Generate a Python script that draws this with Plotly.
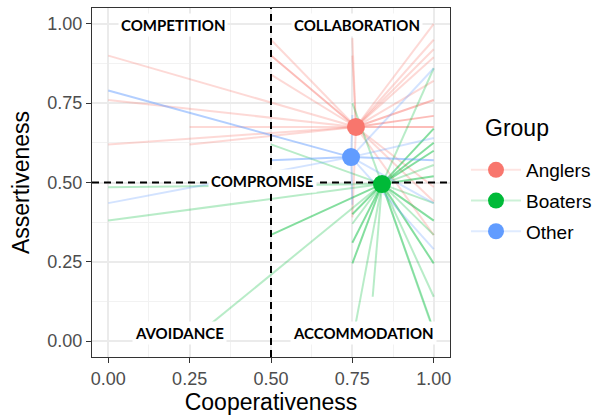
import plotly.graph_objects as go

# Group centroids (mean cooperativeness / assertiveness)
groups = ["Anglers", "Boaters", "Other"]
centroid_x = [0.761, 0.841, 0.746]
centroid_y = [0.675, 0.495, 0.580]
group_colors = ["#F8766D", "#00BA38", "#619CFF"]

# Individual respondent scores; n = number of respondents sharing that score
anglers_x = [0.00, 0.00, 0.00, 0.25, 0.25, 0.50, 0.50, 0.50, 0.75, 0.75,
             1.00, 1.00, 1.00, 1.00, 1.00, 1.00, 1.00, 1.00, 1.00, 1.00, 1.00, 0.75]
anglers_y = [0.900, 0.760, 0.620, 0.675, 0.620, 0.950, 0.900, 0.840, 0.955, 0.900,
             1.000, 0.950, 0.920, 0.895, 0.820, 0.760, 0.710, 0.675, 0.486, 0.440, 0.334, 0.390]
anglers_n = [1, 1, 1, 1, 1, 1, 2, 1, 1, 1,
             1, 1, 1, 1, 1, 2, 2, 2, 1, 1, 1, 1]

boaters_x = [0.00, 0.00, 0.25, 0.50, 0.50, 0.75, 0.75, 0.75, 0.75, 0.75, 0.75,
             0.8125, 1.00, 1.00, 1.00, 1.00, 1.00, 0.99, 1.00,
             1.00, 1.00, 1.00, 1.00, 1.00, 1.00]
boaters_y = [0.485, 0.380, 0.000, 0.335, 0.620, 0.750, 0.400, 0.370, 0.310, 0.245, 0.000,
             0.140, 0.435, 0.380, 0.335, 0.245, 0.140, 0.060, 0.035,
             0.860, 0.670, 0.625, 0.600, 0.555, 0.520]
boaters_n = [1, 1, 1, 2, 1, 1, 2, 1, 2, 2, 1,
             1, 1, 2, 1, 2, 1, 1, 1,
             1, 2, 2, 2, 1, 2]

other_x = [0.00, 0.00, 0.50, 0.75, 0.75, 1.00, 1.00, 1.00, 1.00, 1.00]
other_y = [0.790, 0.435, 0.570, 0.713, 0.430, 0.860, 0.640, 0.570, 0.435, 0.290]
other_n = [2, 1, 2, 1, 1, 1, 1, 2, 1, 1]

# Axis ticks
tick_vals = [0.0, 0.25, 0.5, 0.75, 1.0]
tick_text = ["0.00", "0.25", "0.50", "0.75", "1.00"]

# Quadrant labels
quad_labels = ["COMPETITION", "COLLABORATION", "COMPROMISE", "AVOIDANCE", "ACCOMMODATION"]
quad_x = [0.20, 0.765, 0.474, 0.22, 0.785]
quad_y = [0.997, 0.997, 0.505, 0.025, 0.025]

# Midpoint reference lines
mid = 0.5
axis_span = [-0.05, 1.05]

members = [(anglers_x, anglers_y, anglers_n),
           (boaters_x, boaters_y, boaters_n),
           (other_x, other_y, other_n)]

SEG_ALPHA = 0.28
FONT = "Liberation Sans, Arial"


def rgba(hex_color, alpha):
    h = hex_color.lstrip("#")
    r, g, b = int(h[0:2], 16), int(h[2:4], 16), int(h[4:6], 16)
    return f"rgba({r},{g},{b},{alpha:.3f})"


fig = go.Figure()

# Segments from each group centroid to its members
for gi, (mx, my, mn) in enumerate(members):
    cx, cy, col = centroid_x[gi], centroid_y[gi], group_colors[gi]
    for count in sorted(set(mn)):
        xs, ys = [], []
        for x, y, n in zip(mx, my, mn):
            if n == count:
                xs += [cx, x, None]
                ys += [cy, y, None]
        alpha = 1 - (1 - SEG_ALPHA) ** count
        fig.add_trace(go.Scatter(
            x=xs, y=ys, mode="lines",
            line=dict(color=rgba(col, alpha), width=2),
            hoverinfo="skip", showlegend=False,
        ))

# Dashed reference lines at the midpoint of both scales
dash_line = dict(color="black", width=2, dash="7px,5px")
fig.add_trace(go.Scatter(x=[mid, mid], y=axis_span, mode="lines", line=dash_line,
                         hoverinfo="skip", showlegend=False))
fig.add_trace(go.Scatter(x=axis_span, y=[mid, mid], mode="lines", line=dash_line,
                         hoverinfo="skip", showlegend=False))

# Centroid points (also provide the legend entries)
for gi, name in enumerate(groups):
    fig.add_trace(go.Scatter(
        x=[centroid_x[gi]], y=[centroid_y[gi]], mode="lines+markers",
        name=name, legendgroup=name,
        marker=dict(color=group_colors[gi], size=18),
        line=dict(color=rgba(group_colors[gi], 0.2), width=2),
    ))

for txt, ax, ay in zip(quad_labels, quad_x, quad_y):
    fig.add_annotation(x=ax, y=ay, xref="x", yref="y", text=txt, showarrow=False,
                       font=dict(family="Lato", size=15, color="black", weight="bold"),
                       bgcolor="white", borderpad=2)

W, H = 601, 416
PL, PR, PT, PB = 92, 450, 8, 357

# Legend heading
fig.add_annotation(xref="paper", yref="paper",
                   x=(483 - PL) / (PR - PL), y=(PB - 128) / (PB - PT),
                   text="Group", showarrow=False, xanchor="left", yanchor="middle",
                   font=dict(family=FONT, size=23, color="black"))

axis_common = dict(
    range=axis_span,
    tickvals=tick_vals, ticktext=tick_text,
    ticks="outside", ticklen=5, tickwidth=1, tickcolor="#333333",
    tickfont=dict(family=FONT, size=18, color="#4D4D4D"),
    showgrid=True, gridcolor="#EBEBEB", gridwidth=1.5,
    minor=dict(tick0=0.125, dtick=0.25, showgrid=True, gridcolor="#F2F2F2", gridwidth=1),
    showline=True, linecolor="#333333", linewidth=1, mirror=True,
    zeroline=False,
)

fig.update_layout(
    width=W, height=H,
    margin=dict(l=PL, r=W - PR, t=PT, b=H - PB, autoexpand=False),
    plot_bgcolor="white", paper_bgcolor="white",
    xaxis=dict(axis_common, title=dict(text="Cooperativeness",
               font=dict(family=FONT, size=23, color="black"), standoff=4)),
    yaxis=dict(axis_common, title=dict(text="Assertiveness",
               font=dict(family=FONT, size=23, color="black"), standoff=11)),
    legend=dict(
        font=dict(family=FONT, size=19, color="black"),
        xref="container", yref="container",
        x=466 / W, xanchor="left",
        y=1 - 151 / H, yanchor="top",
        itemwidth=50, tracegroupgap=3,
    ),
    showlegend=True,
)

fig.write_html("out.html")
